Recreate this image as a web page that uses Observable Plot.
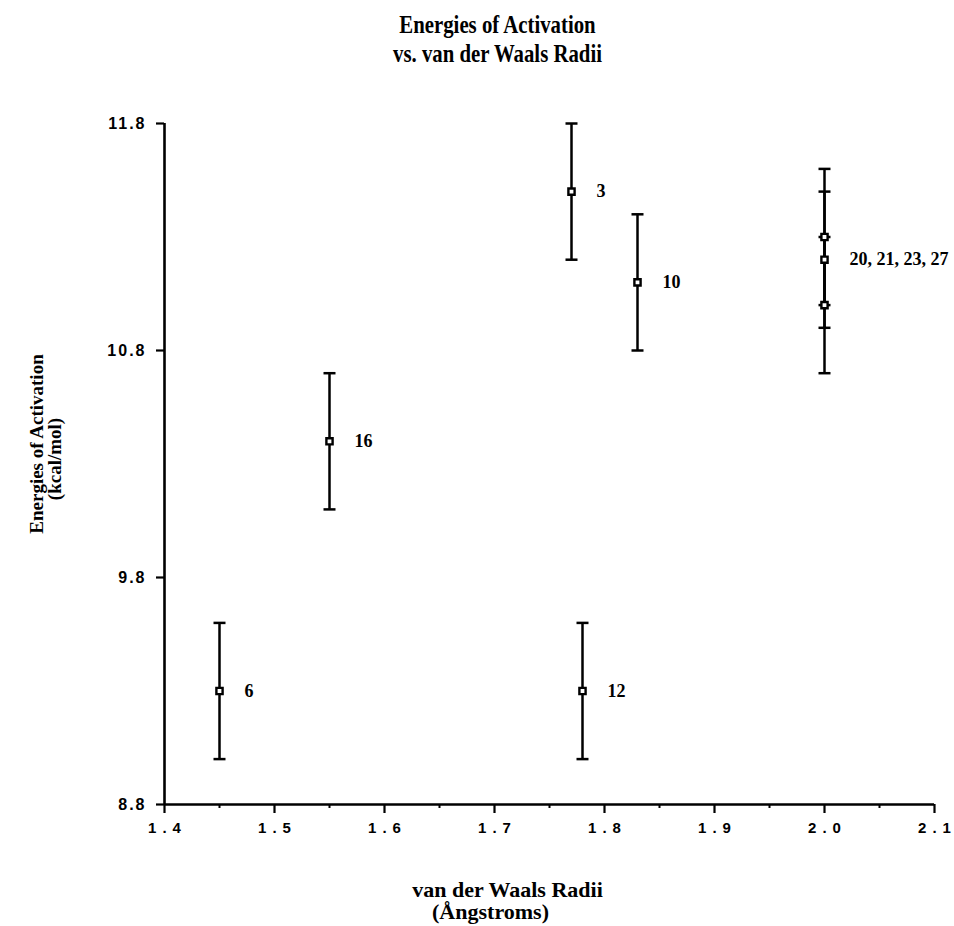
<!DOCTYPE html>
<html>
<head>
<meta charset="utf-8">
<script src="https://cdn.jsdelivr.net/npm/d3@7"></script>
<script src="https://cdn.jsdelivr.net/npm/@observablehq/plot@0.6"></script>
<style>
  html, body { margin: 0; padding: 0; background: #fff; }
  #chart g[aria-label="x-axis tick label"] text { letter-spacing: 6px; }
  #chart g[aria-label="y-axis tick label"] text { letter-spacing: 2px; }
</style>
</head>
<body>
<div id="chart"></div>
<script>
// Data
const radii    = [1.45, 1.55, 1.77, 1.78, 1.83, 2.00, 2.00, 2.00];
const energies = [9.30, 10.40, 11.50, 9.30, 11.10, 11.30, 11.20, 11.00];
const errors   = [0.30, 0.30, 0.30, 0.30, 0.30, 0.30, 0.30, 0.30];

const labelText = ["6", "16", "3", "12", "10", "20, 21, 23, 27"];
const labelX    = [1.45, 1.55, 1.77, 1.78, 1.83, 2.00];
const labelY    = [9.30, 10.40, 11.50, 9.30, 11.10, 11.20];

const xTicks = [1.4, 1.5, 1.6, 1.7, 1.8, 1.9, 2.0, 2.1];
const xMinor = [1.45, 1.55, 1.65, 1.75, 1.85, 1.95, 2.05];
const yTicks = [8.8, 9.8, 10.8, 11.8];
const xDomain = [1.4, 2.1];
const yDomain = [8.8, 11.8];

const title1 = "Energies of Activation";
const title2 = "vs. van der Waals Radii";
const yLabel1 = "Energies of Activation";
const yLabel2 = "(kcal/mol)";
const xLabel1 = "van der Waals Radii";
const xLabel2 = "(Ångstroms)";

const points = radii.map((x, i) => ({x, y: energies[i], e: errors[i]}));
const labels = labelText.map((t, i) => ({t, x: labelX[i], y: labelY[i]}));

const capSymbol = {
  draw(context) {
    context.moveTo(-6, 0);
    context.lineTo(6, 0);
  }
};

const serif = "'Liberation Serif', 'Times New Roman', serif";
const sans = "'Liberation Sans', Arial, sans-serif";

const chart = Plot.plot({
  width: 954,
  height: 926,
  marginLeft: 164,
  marginRight: 20,
  marginTop: 123,
  marginBottom: 122,
  x: {domain: xDomain},
  y: {domain: yDomain},
  marks: [
    // axis lines
    Plot.ruleX([xDomain[0]], {y1: yDomain[0], y2: yDomain[1], strokeWidth: 2.6, stroke: "black"}),
    Plot.ruleY([yDomain[0]], {x1: xDomain[0], x2: xDomain[1], strokeWidth: 2.6, stroke: "black"}),
    Plot.axisY(yTicks, {
      tickSize: 8, tickPadding: 10, strokeWidth: 2.2,
      tickFormat: d3.format(".1f"), fontSize: 16, fontWeight: "bold",
      fontFamily: sans, label: null
    }),
    Plot.axisX(xTicks, {
      tickSize: 9, tickPadding: 9, strokeWidth: 2.2,
      tickFormat: d3.format(".1f"), fontSize: 15, fontWeight: "bold",
      fontFamily: sans, label: null
    }),
    Plot.axisX(xMinor, {tickSize: 4, strokeWidth: 2, tickFormat: () => "", label: null}),
    // error bars
    Plot.ruleX(points, {x: "x", y1: d => d.y - d.e, y2: d => d.y + d.e, strokeWidth: 2.5, stroke: "black"}),
    Plot.dot(points, {x: "x", y: d => d.y - d.e, symbol: capSymbol, stroke: "black", strokeWidth: 2.5, fill: "none"}),
    Plot.dot(points, {x: "x", y: d => d.y + d.e, symbol: capSymbol, stroke: "black", strokeWidth: 2.5, fill: "none"}),
    // markers
    Plot.dot(points, {x: "x", y: "y", symbol: "square", r: 3.5, stroke: "black", strokeWidth: 2.4, fill: "white"}),
    // point labels
    Plot.text(labels, {x: "x", y: "y", text: "t", dx: 25, textAnchor: "start",
      fontSize: 18, fontWeight: "bold", fontFamily: serif, fill: "black"}),
    // title (two lines)
    Plot.text([title1], {frameAnchor: "top", textAnchor: "middle", lineAnchor: "middle", dx: -52, dy: -99,
      fontSize: 26, fontWeight: "bold", fontFamily: serif, fill: "black"}),
    Plot.text([title2], {frameAnchor: "top", textAnchor: "middle", lineAnchor: "middle", dx: -52, dy: -70,
      fontSize: 26, fontWeight: "bold", fontFamily: serif, fill: "black"}),
    // y label
    Plot.text([yLabel1], {frameAnchor: "left", textAnchor: "middle", lineAnchor: "middle", rotate: -90, dx: -128, dy: -20,
      fontSize: 19, fontWeight: "bold", fontFamily: serif, fill: "black"}),
    Plot.text([yLabel2], {frameAnchor: "left", textAnchor: "middle", lineAnchor: "middle", rotate: -90, dx: -110, dy: -5,
      fontSize: 19, fontWeight: "bold", fontFamily: serif, fill: "black"}),
    // x label
    Plot.text([xLabel1], {frameAnchor: "bottom", textAnchor: "middle", lineAnchor: "middle", dx: -42, dy: 85,
      fontSize: 22, fontWeight: "bold", fontFamily: serif, fill: "black"}),
    Plot.text([xLabel2], {frameAnchor: "bottom", textAnchor: "middle", lineAnchor: "middle", dx: -59, dy: 107,
      fontSize: 22, fontWeight: "bold", fontFamily: serif, fill: "black"})
  ]
});
document.getElementById("chart").appendChild(chart);

// Condense the title glyphs horizontally, like the reference typeface (not the rotated y label)
d3.select(chart).selectAll("text").each(function() {
  const t = this.textContent;
  const tr = this.getAttribute("transform") || "";
  if ((t === title1 || t === title2) && !tr.includes("rotate")) {
    this.setAttribute("transform", tr + " scale(0.8,1)");
  }
});
// Compensate trailing letter-spacing of centered x tick labels
d3.select(chart).selectAll('g[aria-label="x-axis tick label"] text').attr("dx", 3);
</script>
</body>
</html>
